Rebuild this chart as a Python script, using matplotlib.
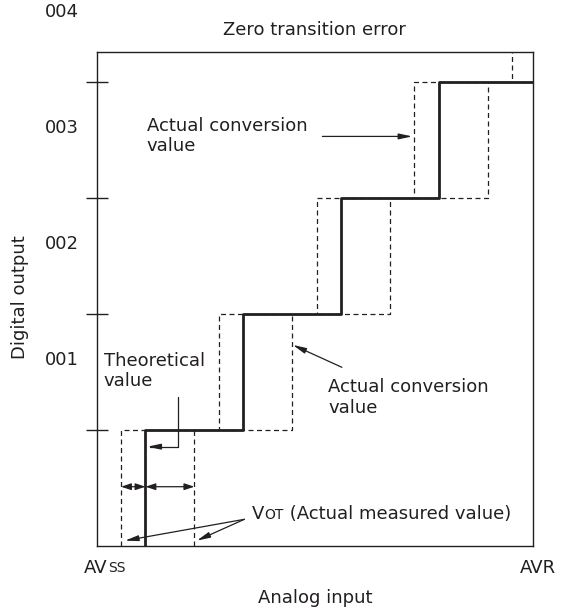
import numpy as np
import matplotlib.pyplot as plt

# digital output codes and where each staircase steps up (in LSB of analog input)
codes = [1, 2, 3, 4]
code_labels = ['001', '002', '003', '004']
theory_steps = [0.5, 1.5, 2.5, 3.5]
early_steps = [0.25, 1.25, 2.25, 3.25, 4.25]
late_steps = [1.0, 2.0, 3.0, 4.0]
x_max = 4.46
y_max = 4.26

ink = '#231f20'
plt.rcParams['font.family'] = 'DejaVu Sans'
plt.rcParams['text.color'] = ink


def staircase(steps, x_end):
    xs = [steps[0]] + list(steps) + [x_end]
    ys = [0] + list(range(1, len(steps) + 1)) + [len(steps)]
    return xs, ys


fig = plt.figure(figsize=(5.61, 6.15), dpi=100)
ax = fig.add_axes([0.1722, 0.1122, 0.777, 0.8037])
ax.set_xlim(0, x_max)
ax.set_ylim(0, y_max)

for sp in ax.spines.values():
    sp.set_color(ink)
    sp.set_linewidth(1.0)
ax.set_xticks([])
ax.set_yticks(codes)
ax.set_yticklabels([])
ax.tick_params(axis='y', direction='inout', length=16, width=1.0, color=ink)

dash = dict(color=ink, lw=0.9, linestyle=(0, (4, 2.8)))
xs, ys = staircase(early_steps, x_max + 0.2)
ax.step(xs, ys, where='post', **dash)
xs, ys = staircase(late_steps, x_max + 0.2)
ax.step(xs, ys, where='post', **dash)
xs, ys = staircase(theory_steps, x_max + 0.2)
ax.step(xs, ys, where='post', color=ink, lw=2.0, zorder=3)

# code labels sit inside each code band, left of the axis
for c, lab in zip(codes, code_labels):
    ax.annotate(lab, xy=(0, c + 0.6), xycoords=('axes fraction', 'data'),
                xytext=(-13, 0), textcoords='offset points',
                ha='right', va='center', fontsize=13, annotation_clip=False)

ax.annotate('Zero transition error', xy=(0.5, 1), xycoords='axes fraction',
            xytext=(0, 12.3), textcoords='offset points',
            ha='center', va='baseline', fontsize=13)

arrow = dict(arrowstyle='-|>,head_length=0.8,head_width=0.17', color=ink,
             lw=0.9, shrinkA=0, shrinkB=0, mutation_scale=10)
both = dict(arrowstyle='<|-|>,head_length=0.6,head_width=0.2', color=ink,
            lw=0.9, shrinkA=0, shrinkB=0, mutation_scale=10)

# upper "actual conversion value"
ax.text(0.513, 3.70, 'Actual conversion\nvalue', ha='left', va='top', fontsize=13)
ax.annotate('', xy=(3.23, 3.53), xytext=(2.31, 3.53), arrowprops=arrow)

# lower "actual conversion value"
ax.text(2.372, 1.446, 'Actual conversion\nvalue', ha='left', va='top', fontsize=13)
ax.annotate('', xy=(2.007, 1.733), xytext=(2.51, 1.54), arrowprops=arrow)

# theoretical value
ax.text(0.074, 1.675, 'Theoretical\nvalue', ha='left', va='top', fontsize=13)
ax.annotate('', xy=(0.519, 0.856), xytext=(0.828, 1.287),
            arrowprops=dict(arrow, connectionstyle='angle,angleA=90,angleB=0,rad=0'))

# offset span arrows
ax.annotate('', xy=(early_steps[0], 0.511), xytext=(theory_steps[0], 0.511), arrowprops=both)
ax.annotate('', xy=(late_steps[0], 0.511), xytext=(theory_steps[0], 0.511), arrowprops=both)

# V_OT label and pointers (small caps sit on the same baseline)
t1 = ax.text(1.588, 0.23, 'V', ha='left', va='baseline', fontsize=13)
t2 = ax.annotate('OT', xy=(1, 0), xycoords=t1, xytext=(0, 1.2), textcoords='offset points',
                 ha='left', va='bottom', fontsize=10)
ax.annotate(' (Actual measured value)', xy=(1, 0), xycoords=t1,
            xytext=(t2.get_window_extent(fig.canvas.get_renderer()).width * 72 / fig.dpi, 0),
            textcoords='offset points', ha='left', va='bottom', fontsize=13)
ax.annotate('', xy=(0.29, 0.046), xytext=(1.512, 0.23), arrowprops=arrow)
ax.annotate('', xy=(1.025, 0.046), xytext=(1.512, 0.23), arrowprops=arrow)

# axis end labels
a1 = ax.annotate('AV', xy=(0, 0), xycoords='axes fraction', xytext=(-9, -19.4),
                 textcoords='offset points', ha='left', va='baseline', fontsize=13)
ax.annotate('SS', xy=(1, 0), xycoords=a1, xytext=(0, 1.2), textcoords='offset points',
            ha='left', va='bottom', fontsize=10)
ax.annotate('AVR', xy=(1, 0), xycoords='axes fraction', xytext=(-9, -19.4),
            textcoords='offset points', ha='left', va='baseline', fontsize=13)

fig.text(20.0 / 561, 1 - 297.0 / 615, 'Digital output', rotation=90,
         ha='center', va='center', fontsize=13)
fig.text(314.8 / 561, 1 - 598.0 / 615, 'Analog input', ha='center', va='center', fontsize=13)

fig.savefig('out.png', dpi=100)
